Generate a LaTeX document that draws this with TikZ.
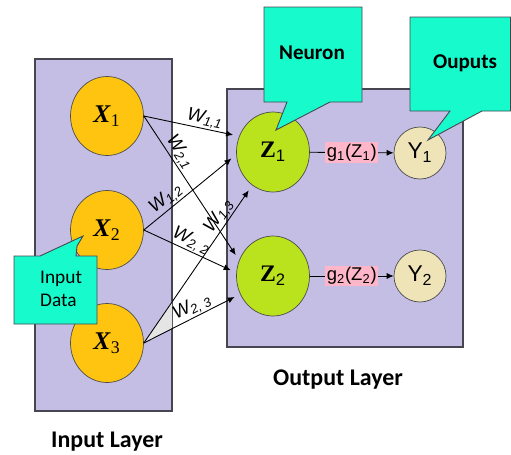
\documentclass[tikz,border=0pt]{standalone}
\usepackage{fontspec}
\setmainfont{Liberation Serif}
\setsansfont{Liberation Sans}
\newfontfamily\calibri{Carlito}
\usetikzlibrary{arrows.meta,shapes.geometric}

\definecolor{layerfill}{RGB}{197,190,228}
\definecolor{inputfill}{RGB}{255,196,16}
\definecolor{neuronfill}{RGB}{186,227,30}
\definecolor{outfill}{RGB}{238,228,184}
\definecolor{calloutfill}{RGB}{22,250,204}
\definecolor{actfill}{RGB}{255,182,200}
\definecolor{edgegray}{RGB}{70,70,80}

\begin{document}
\begin{tikzpicture}[x=0.02cm, y=-0.02cm, font=\sffamily,
    layer/.style={draw=edgegray, line width=0.6pt, fill=layerfill},
    xnode/.style={ellipse, draw=black!70, fill=inputfill, minimum width=1.46cm, minimum height=1.58cm, inner sep=0pt, font=\rmfamily\fontsize{14.5}{16}\selectfont},
    znode/.style={ellipse, draw=black!70, fill=neuronfill, minimum width=1.46cm, minimum height=1.6cm, inner sep=0pt, font=\rmfamily\fontsize{13.5}{15}\selectfont},
    ynode/.style={circle, draw=black!70, fill=outfill, minimum size=1.04cm, inner sep=0pt, font=\sffamily\fontsize{13}{14}\selectfont},
    wire/.style={-{Latex[length=4pt,width=3.5pt]}, line width=0.5pt, shorten >=3.5pt},
    wlabel/.style={sloped, above, inner sep=0.5pt, font=\sffamily\itshape\fontsize{10.5}{12}\selectfont},
    act/.style={fill=actfill, inner sep=1pt, font=\sffamily\fontsize{10.5}{12}\selectfont},
    callout/.style={draw=edgegray, line width=0.5pt, fill=calloutfill},
    tag/.style={font=\calibri\bfseries\fontsize{12}{14}\selectfont},
    title/.style={font=\calibri\bfseries\fontsize{13.6}{16}\selectfont}
]

    \useasboundingbox (0,0) rectangle (511,454);

    % ─────────── layers ────────────────────────────────────────────────
    \filldraw[layer] (35,59) rectangle (172,411);
    \filldraw[layer] (227,89) rectangle (463,347);

    % ─────────── input layer ───────────────────────────────────────────
    \node[xnode] (X1) at (107,116) {\textbf{\textit{X}}\textsubscript{1}};
    \node[xnode] (X2) at (107,230) {\textbf{\textit{X}}\textsubscript{2}};
    \node[xnode] (X3) at (107,343) {\textbf{\textit{X}}\textsubscript{3}};
    \fill[gray!20] (X3.east) -- (172,301) -- (172,328) -- cycle;

    % ─────────── output layer ──────────────────────────────────────────
    \node[znode] (Z1) at (273,152) {\textbf{Z}\textsubscript{\sffamily 1}};
    \node[znode] (Z2) at (273,276) {\textbf{Z}\textsubscript{\sffamily 2}};
    \node[ynode] (Y1) at (420,153) {Y\textsubscript{1}};
    \node[ynode] (Y2) at (420,276) {Y\textsubscript{2}};

    % ─────────── weights ───────────────────────────────────────────────
    \draw[wire] (X1.east) -- (Z1.155) node[wlabel, pos=0.62] {W\textsubscript{1,1}};
    \draw[wire] (X1.east) -- (Z2.155) node[wlabel, pos=0.29] {W\textsubscript{2,1}};
    \draw[wire] (X2.east) -- (Z1.184) node[wlabel, pos=0.31] {W\textsubscript{1,2}};
    \draw[wire] (X2.east) -- (Z2.175) node[wlabel, pos=0.47] {W\textsubscript{2, 2}};
    \draw[wire] (X3.east) -- (Z1.238) node[wlabel, pos=0.77] {W\textsubscript{1,3}};
    \draw[wire] (X3.east) -- (Z2.209) node[wlabel, pos=0.55] {W\textsubscript{2, 3}};

    % ─────────── activations ───────────────────────────────────────────
    \draw[-{Latex[length=4pt,width=3.5pt]}, line width=0.5pt] (Z1) -- (Y1)
        node[act, midway] (g1) {g\textsubscript{1}(Z\textsubscript{1})};
    \draw[-{Latex[length=4pt,width=3.5pt]}, line width=0.5pt] (Z2) -- (Y2)
        node[act, midway] (g2) {g\textsubscript{2}(Z\textsubscript{2})};

    % ─────────── callouts ──────────────────────────────────────────────
    \filldraw[callout] (264,7) -- (362,7) -- (362,102) -- (330,102) -- (276,130)
        -- (287,102) -- (264,102) -- cycle;
    \node[tag] (neuron) at (312,53) {Neuron};
    \filldraw[callout] (410,17) -- (510.5,17) -- (510.5,111) -- (482,111) -- (428,140)
        -- (450,111) -- (410,111) -- cycle;
    \node[tag] (ouputs) at (465,63) {Ouputs};
    \filldraw[callout] (14,256) -- (40,256) -- (83,236) -- (77,246) -- (76,256)
        -- (97,256) -- (97,324) -- (14,324) -- cycle;
    \node[anchor=west, align=left, font=\calibri\fontsize{11}{13}\selectfont] (indata) at (34,289) {Input\\Data};

    % ─────────── titles ────────────────────────────────────────────────
    \node[title] (outlayer) at (338,380) {Output Layer};
    \node[title] (inlayer) at (107,442) {Input Layer};
  \end{tikzpicture}
\end{document}
